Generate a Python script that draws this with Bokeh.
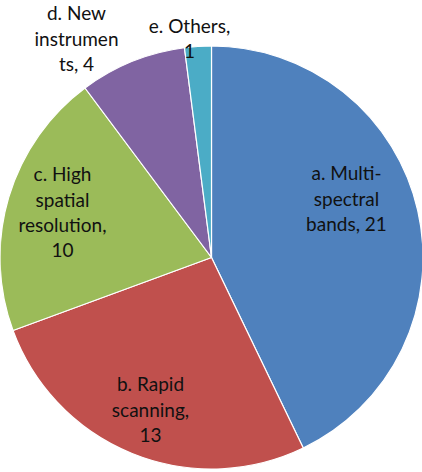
import math
from bokeh.plotting import figure
from bokeh.models import Range1d, ColumnDataSource
from bokeh.core.properties import value
from bokeh.embed import file_html
from bokeh.resources import INLINE

# Pie data
categories = ["a. Multi-spectral bands", "b. Rapid scanning", "c. High spatial resolution",
              "d. New instruments", "e. Others"]
counts = [21, 13, 10, 4, 1]
colors = ["#4F81BD", "#C0504D", "#9BBB59", "#8064A2", "#4BACC6"]

# Label line breaks (text lines per slice; the count is appended to the last piece)
label_lines = [
    ["a. Multi-", "spectral", "bands, {}"],
    ["b. Rapid", "scanning,", "{}"],
    ["c. High", "spatial", "resolution,", "{}"],
    ["d. New", "instrumen", "ts, {}"],
    ["e. Others,", "{}"],
]

W, H = 422, 472
CX, CY, R = 211, H - 257, 211.5

# Label anchor (centre x, first baseline y in screen pixels from top) and line spacing
label_anchor = [(346, 172), (150, 383), (62, 173), (76, 12), (189, 25)]
line_step = 25.5

p = figure(width=W, height=H, output_backend="svg", toolbar_location=None,
           x_range=Range1d(0, W), y_range=Range1d(0, H), min_border=0)
p.axis.visible = False
p.grid.visible = False
p.outline_line_color = None
p.background_fill_color = "white"

total = sum(counts)
starts, ends = [], []
cum = 0
for c in counts:
    starts.append(math.pi / 2 - 2 * math.pi * cum / total)
    cum += c
    ends.append(math.pi / 2 - 2 * math.pi * cum / total)

src = ColumnDataSource(dict(start=starts, end=ends, color=colors))
p.wedge(x=CX, y=CY, radius=R, start_angle="start", end_angle="end", direction="clock",
        fill_color="color", line_color="white", line_width=1.2, source=src)

xs, ys, texts = [], [], []
for lines, (ax, ay), n in zip(label_lines, label_anchor, counts):
    for i, ln in enumerate(lines):
        xs.append(ax)
        ys.append(H - (ay + i * line_step))
        texts.append(ln.format(n))

p.text(x=xs, y=ys, text=texts, text_align="center", text_baseline="alphabetic",
       text_font=value("Lato"), text_font_size="19px", text_color="#111111")

open("out.html", "w").write(file_html(p, INLINE))
